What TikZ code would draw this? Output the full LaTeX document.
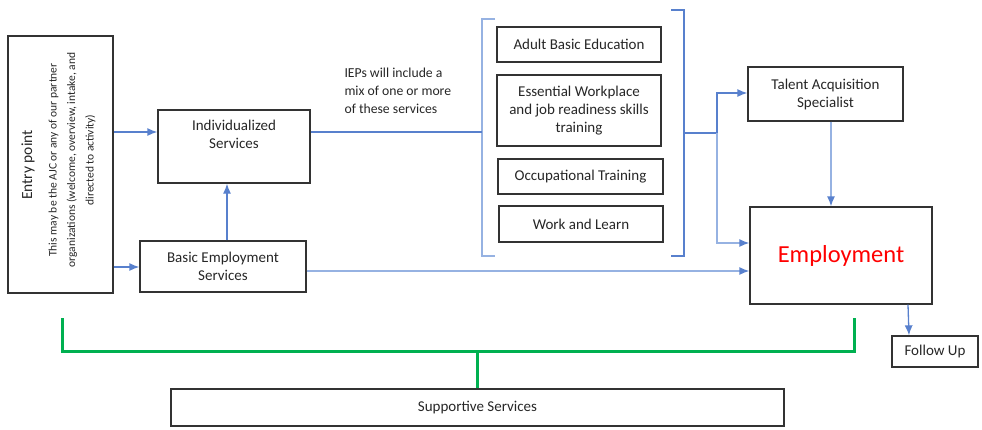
\documentclass[tikz,border=0pt]{standalone}
\usepackage{fontspec}
\setmainfont{Carlito}
\usetikzlibrary{arrows.meta, positioning}
\definecolor{linkblue}{RGB}{88,128,205}
\definecolor{paleblue}{RGB}{150,178,226}
\definecolor{suppgreen}{RGB}{0,176,80}
\tikzset{
  box/.style={draw=black!80, line width=1.3pt, align=center, inner sep=2pt, text=black!85, font=\fontsize{15}{18}\selectfont},
  arr/.style={draw=linkblue, line width=1.3pt, -{Latex[length=10pt,width=8pt,color=linkblue]}},
  link/.style={draw=linkblue, line width=1.3pt},
  supp/.style={draw=suppgreen, line width=3pt},
}
\begin{document}
\begin{tikzpicture}[x=1pt, y=-1pt]
  \useasboundingbox (0,0) rectangle (982,429);
  % boxes
  \node[box, minimum width=105, minimum height=257] (entry) at (60.5,164.5) {};
  \node[rotate=90, text=black!85, font=\fontsize{15.5}{18}\selectfont] (entrytitle) at (28,165) {Entry point};
  \node[rotate=90, align=center, text=black!85, font=\fontsize{11.5}{18.5}\selectfont] (entrytext) at (72,160)
    {This may be the AJC or any of our partner\\organizations (welcome, overview, intake, and\\directed to activity)};
  \node[box, minimum width=152, minimum height=73] (indiv) at (234,146.5) {};
  \node[box, draw=none] (indivtxt) at (234,134.5) {Individualized\\Services};
  \node[box, minimum width=166, minimum height=51] (basic) at (223,266.5) {Basic Employment\\Services};
  \node[box, minimum width=164, minimum height=35] (adult) at (579,44.5) {Adult Basic Education};
  \node[box, minimum width=164, minimum height=71] (essential) at (579,110.5) {Essential Workplace\\and job readiness skills\\training};
  \node[box, minimum width=165, minimum height=35] (occup) at (580.5,176.5) {Occupational Training};
  \node[box, minimum width=164, minimum height=36] (work) at (581,224) {Work and Learn};
  \node[box, minimum width=155, minimum height=54] (talent) at (825.5,94) {Talent Acquisition\\Specialist};
  \node[box, minimum width=182, minimum height=97, text=red, font=\fontsize{24.5}{28}\selectfont] (employ) at (841,255.5) {Employment};
  \node[box, minimum width=86, minimum height=31] (follow) at (935,351.5) {Follow Up};
  \node[box, minimum width=613, minimum height=37] (support) at (477.5,407.5) {Supportive Services};
  \node[anchor=west, align=left, text=black!85, font=\fontsize{13.7}{18}\selectfont] (ieps) at (341,91)
    {IEPs will include a\\mix of one or more\\of these services};
  % brackets round the services
  \draw[link, draw=paleblue] (495,19) -- (482,19) -- (482,256) -- (495,256);
  \draw[link] (671,10) -- (684,10) -- (684,256) -- (671,256);
  \coordinate (lbr) at (482,132);
  \coordinate (rbr) at (684,133);
  \coordinate (fork) at (717,133);
  % connectors
  \draw[arr] (entry.east |- 0,132) -- (indiv.west |- 0,132);
  \draw[arr] (entry.east |- 0,267) -- (basic.west |- 0,267);
  \draw[arr] (basic.north -| 227,0) -- (indiv.south -| 227,0);
  \draw[link] (indiv.east |- lbr) -- (lbr);
  \draw[link] (rbr) -- (fork);
  \draw[arr] (fork) |- (talent.west |- 0,93);
  \draw[arr, draw=paleblue] (fork) |- (employ.west |- 0,243);
  \draw[arr, draw=paleblue] (basic.east |- 0,271) -- (employ.west |- 0,271);
  \draw[arr, draw=paleblue] (talent.south -| 831,0) -- (employ.north -| 831,0);
  \draw[arr] (employ.south -| 908,0) -- (follow.north -| 909,0);
  % supportive services bracket
  \draw[supp] (62,318) |- (854,351) -- (854,318);
  \coordinate (gmid) at (support.north |- 0,351);
  \draw[supp] (gmid) -- (support.north);
\end{tikzpicture}
\end{document}
